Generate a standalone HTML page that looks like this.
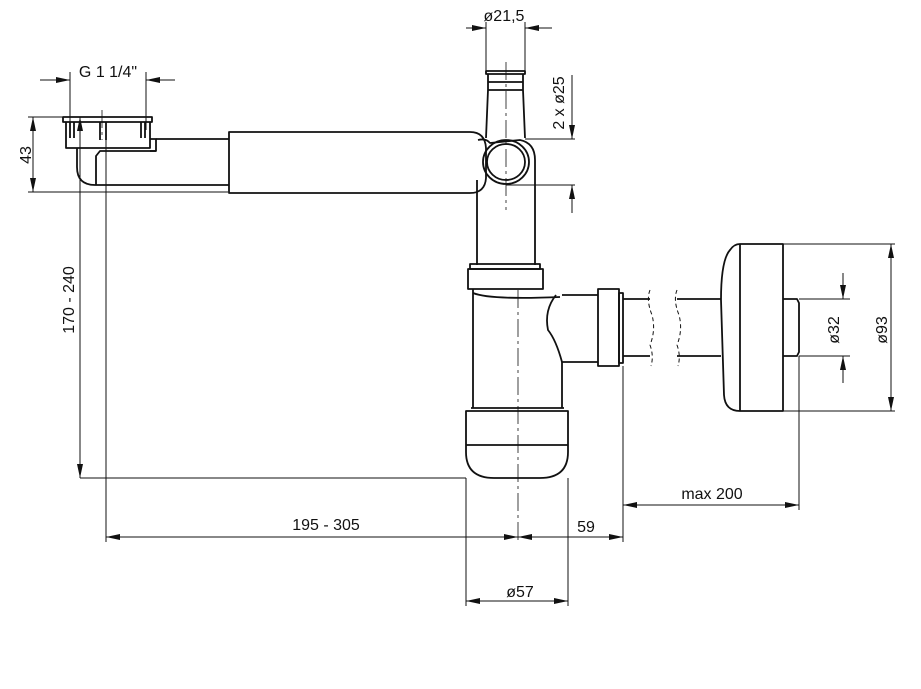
<!DOCTYPE html>
<html><head><meta charset="utf-8"><style>
html,body{margin:0;padding:0;background:#fff}
svg{display:block}
text{font-family:"Liberation Sans",sans-serif;font-size:16px;fill:#111}
</style></head><body>
<svg width="921" height="689" viewBox="0 0 921 689" xmlns="http://www.w3.org/2000/svg">
<defs>
<marker id="a" viewBox="0 0 14 6" refX="14" refY="3" markerWidth="14" markerHeight="6" markerUnits="userSpaceOnUse" orient="auto-start-reverse"><path d="M0,0L14,3L0,6z" fill="#111"/></marker>
</defs>
<g fill="none" stroke="#111" stroke-width="1.8" stroke-linejoin="round">
<rect x="63" y="117" width="89" height="5"/>
<path d="M66,122V148H150V122"/>
<path d="M70,122V138M74,122V138M100,122V140M106,122V140M141,122V138M145,122V138"/>
<path d="M150,139H156V151H150"/>
<path d="M156,139H229M156,151H100L96,156V185"/>
<path d="M77,148V167Q77,185 95,185H229"/>
<path d="M229,132H470Q485,132 486,148V178Q485,193 470,193H229Z"/>
<path d="M478,140Q486,138 490,143L520,140Q535,143 535,160V265M477,180V265"/>
<ellipse cx="506" cy="162" rx="23" ry="22"/>
<ellipse cx="506" cy="162" rx="19" ry="18"/>
<rect x="486" y="71" width="39" height="3"/>
<path d="M488,74V90L486,138M523,74V90L525,138M488,82H523M488,90H523"/>
<rect x="470" y="264" width="70" height="5"/>
<rect x="468" y="269" width="75" height="20"/>
<path d="M473,289V408M562,362V408M471,408H564"/>
<path d="M473,293Q490,300 560,297"/>
<path d="M562,295H598M562,362H598M562,362Q556,340 548,330Q544,310 556,295"/>
<rect x="598" y="289" width="21" height="77"/>
<rect x="619" y="293" width="4" height="70"/>
<path d="M623,299H650M623,356H650M677,299H721M677,356H721"/>
<path d="M650,290Q646,300 652,315Q656,330 650,345Q654,356 651,366M677,290Q673,300 679,315Q683,330 677,345Q681,356 678,366" stroke-width="1" stroke-dasharray="4,3"/>
<path d="M466,411H568V452Q568,478 540,478H494Q466,478 466,452Z"/>
<path d="M466,445H568"/>
<path d="M740,244H783V411H740Q725,411 724,395L721,300Q721,260 730,250Q734,244 740,244Z"/>
<path d="M740,244V411"/>
<path d="M783,299H797L799,303V352L797,356H783"/>
</g>
<g stroke="#111" stroke-width="0.8" fill="none" stroke-dasharray="18,4,3,4">
<path d="M518,290V540M506,62V210M102,110V140"/>
</g>
<g stroke="#111" stroke-width="1" fill="none">
<path d="M70,72V130M146,72V130"/>
<path d="M40,80H70" marker-end="url(#a)"/><path d="M175,80H146" marker-end="url(#a)"/>
<path d="M486,22V72M525,22V72"/>
<path d="M466,28H486" marker-end="url(#a)"/><path d="M552,28H525" marker-end="url(#a)"/>
<path d="M28,117H64M28,192H228"/>
<path d="M33,117V192" marker-start="url(#a)" marker-end="url(#a)"/>
<path d="M525,139H575M506,185H575"/>
<path d="M572,75V139" marker-end="url(#a)"/><path d="M572,213V185" marker-end="url(#a)"/>
<path d="M80,117V478" marker-start="url(#a)" marker-end="url(#a)"/>
<path d="M80,478H466"/>
<path d="M106,140V542"/>
<path d="M106,537H518" marker-start="url(#a)" marker-end="url(#a)"/>
<path d="M568,537H518" marker-end="url(#a)"/>
<path d="M540,537H623" marker-end="url(#a)"/>
<path d="M623,366V542M799,356V510"/>
<path d="M623,505H799" marker-start="url(#a)" marker-end="url(#a)"/>
<path d="M466,478V606M568,478V606"/>
<path d="M466,601H568" marker-start="url(#a)" marker-end="url(#a)"/>
<path d="M783,244H895M783,411H895M799,299H850M799,356H850"/>
<path d="M891,244V411" marker-start="url(#a)" marker-end="url(#a)"/>
<path d="M843,273V299" marker-end="url(#a)"/><path d="M843,383V356" marker-end="url(#a)"/>
</g>
<text x="108" y="77" text-anchor="middle">G 1 1/4"</text>
<text x="504" y="21" text-anchor="middle">ø21,5</text>
<text transform="translate(31,155) rotate(-90)" text-anchor="middle">43</text>
<text transform="translate(564,103) rotate(-90)" text-anchor="middle">2 x ø25</text>
<text transform="translate(74,300) rotate(-90)" text-anchor="middle">170 - 240</text>
<text x="326" y="530" text-anchor="middle">195 - 305</text>
<text x="586" y="532" text-anchor="middle">59</text>
<text x="712" y="499" text-anchor="middle">max 200</text>
<text x="520" y="597" text-anchor="middle">ø57</text>
<text transform="translate(839,330) rotate(-90)" text-anchor="middle">ø32</text>
<text transform="translate(887,330) rotate(-90)" text-anchor="middle">ø93</text>
</svg>
</body></html>
